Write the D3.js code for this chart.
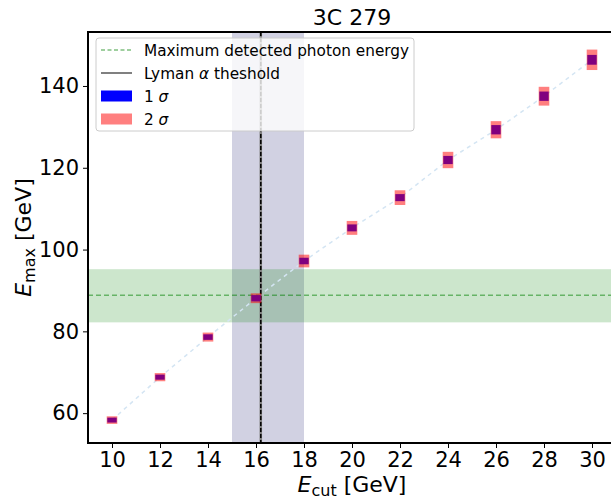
<!DOCTYPE html>
<html><head><meta charset="utf-8">
<script src="https://cdn.jsdelivr.net/npm/d3@7"></script>
<style>body{margin:0;background:#fff;}svg{display:block;font-family:"DejaVu Sans",sans-serif;}</style>
</head><body>
<svg id="c" width="611" height="499"></svg>
<script>
// data
const ecut = [10, 12, 14, 16, 18, 20, 22, 24, 26, 28, 30];
const emax = [58.3, 68.8, 78.6, 88.1, 97.2, 105.3, 112.7, 121.9, 129.3, 137.5, 146.4];
const sigma1 = [0.6, 0.62, 0.68, 0.77, 0.8, 0.85, 0.86, 1.0, 1.14, 1.14, 1.2];
const sigma2 = [0.93, 1.0, 1.1, 1.2, 1.55, 1.7, 1.8, 2.0, 2.1, 2.3, 2.5];
const xTicks = [10, 12, 14, 16, 18, 20, 22, 24, 26, 28, 30];
const yTicks = [60, 80, 100, 120, 140];
const maxPhoton = 88.8, maxPhotonLo = 82.2, maxPhotonHi = 95.2;
const lyman = 16.2, lymanLo = 15, lymanHi = 18;
const title = "3C 279";

const svg = d3.select("#c");
const L = 88, R = 616, T = 32, B = 443;
const x = d3.scaleLinear().domain([9, 31]).range([L, R]);
const y = d3.scaleLinear().domain([52.7, 153.2]).range([B, T]);

svg.append("defs").append("clipPath").attr("id","clip")
  .append("rect").attr("x",L).attr("y",T).attr("width",R-L).attr("height",B-T);
const g = svg.append("g").attr("clip-path","url(#clip)");

// bands
g.append("rect").attr("x",x(lymanLo)).attr("width",x(lymanHi)-x(lymanLo))
  .attr("y",T).attr("height",B-T).attr("fill","#191970").attr("fill-opacity",0.2);
g.append("rect").attr("x",L).attr("width",R-L)
  .attr("y",y(maxPhotonHi)).attr("height",y(maxPhotonLo)-y(maxPhotonHi))
  .attr("fill","green").attr("fill-opacity",0.2);
g.append("line").attr("x1",L).attr("x2",R).attr("y1",y(maxPhoton)).attr("y2",y(maxPhoton))
  .attr("stroke","green").attr("stroke-opacity",0.5).attr("stroke-width",1.5).attr("stroke-dasharray","5,3");

// trend line
const line = d3.line().x((d,i)=>x(ecut[i])).y(d=>y(d));
g.append("path").attr("d",line(emax)).attr("fill","none")
  .attr("stroke","#d4e5f3").attr("stroke-width",1.5).attr("stroke-dasharray","4,4");

// lyman line
g.append("line").attr("x1",x(lyman)).attr("x2",x(lyman)).attr("y1",T).attr("y2",B)
  .attr("stroke","#808080").attr("stroke-width",2.5);
g.append("line").attr("x1",x(lyman)).attr("x2",x(lyman)).attr("y1",T).attr("y2",B)
  .attr("stroke","#000").attr("stroke-width",1.5).attr("stroke-dasharray","4,2");

// error boxes
const pts = g.append("g");
ecut.forEach((c,i)=>{
  pts.append("rect").attr("x",x(c)-4.7).attr("width",9.4)
    .attr("y",y(emax[i]+sigma1[i])).attr("height",y(emax[i]-sigma1[i])-y(emax[i]+sigma1[i]))
    .attr("fill","#0000ff");
  pts.append("rect").attr("x",x(c)-5.3).attr("width",10.6)
    .attr("y",y(emax[i]+sigma2[i])).attr("height",y(emax[i]-sigma2[i])-y(emax[i]+sigma2[i]))
    .attr("fill","#ff0000").attr("fill-opacity",0.5);
});

// axes
const xa = svg.append("g").attr("transform",`translate(0,${B})`)
  .call(d3.axisBottom(x).tickValues(xTicks).tickSize(5).tickPadding(4));
const ya = svg.append("g").attr("transform",`translate(${L},0)`)
  .call(d3.axisLeft(y).tickValues(yTicks).tickSize(5).tickPadding(4));
[xa,ya].forEach(a=>{
  a.select(".domain").remove();
  a.selectAll("text").attr("font-size",21).attr("fill","#000").attr("font-family","DejaVu Sans");
  a.selectAll("line").attr("stroke","#000").attr("stroke-width",1);
});
// spines
svg.append("rect").attr("x",L).attr("y",T).attr("width",R-L).attr("height",B-T)
  .attr("fill","none").attr("stroke","#000").attr("stroke-width",2);

// title
svg.append("text").attr("x",(L+R)/2).attr("y",25).attr("text-anchor","middle")
  .attr("font-size",22).text(title);

// axis labels
const xl = svg.append("text").attr("x",(L+R)/2).attr("y",492).attr("text-anchor","middle").attr("font-size",22);
xl.append("tspan").attr("font-style","italic").text("E");
xl.append("tspan").attr("font-size",16).attr("dy",4).text("cut");
xl.append("tspan").attr("dy",-4).text(" [GeV]");
const yl = svg.append("text").attr("transform",`translate(31,${(T+B)/2}) rotate(-90)`)
  .attr("text-anchor","middle").attr("font-size",22);
yl.append("tspan").attr("font-style","italic").text("E");
yl.append("tspan").attr("font-size",16).attr("dy",4).text("max");
yl.append("tspan").attr("dy",-4).text(" [GeV]");

// legend
const lg = svg.append("g");
lg.append("rect").attr("x",96).attr("y",38).attr("width",318).attr("height",93).attr("rx",3)
  .attr("fill","#fff").attr("fill-opacity",0.8).attr("stroke","#cccccc").attr("stroke-width",1);
const rows = [50, 73, 96, 119];
lg.append("line").attr("x1",101).attr("x2",132).attr("y1",rows[0]).attr("y2",rows[0])
  .attr("stroke","green").attr("stroke-opacity",0.5).attr("stroke-width",1.5).attr("stroke-dasharray","4,2.5");
lg.append("line").attr("x1",101).attr("x2",132).attr("y1",rows[1]).attr("y2",rows[1])
  .attr("stroke","#808080").attr("stroke-width",2);
lg.append("rect").attr("x",101).attr("y",rows[2]-5.5).attr("width",31).attr("height",11).attr("fill","#0000ff");
lg.append("rect").attr("x",101).attr("y",rows[3]-5.5).attr("width",31).attr("height",11).attr("fill","#ff0000").attr("fill-opacity",0.5);
const lt = (yy)=>lg.append("text").attr("x",144).attr("y",yy+5.5).attr("font-size",15.3);
lt(rows[0]).text("Maximum detected photon energy");
const t2 = lt(rows[1]); t2.append("tspan").text("Lyman "); t2.append("tspan").attr("font-style","italic").text("α"); t2.append("tspan").text(" theshold");
const t3 = lt(rows[2]); t3.append("tspan").text("1 "); t3.append("tspan").attr("font-style","italic").text("σ");
const t4 = lt(rows[3]); t4.append("tspan").text("2 "); t4.append("tspan").attr("font-style","italic").text("σ");
</script>
</body></html>
